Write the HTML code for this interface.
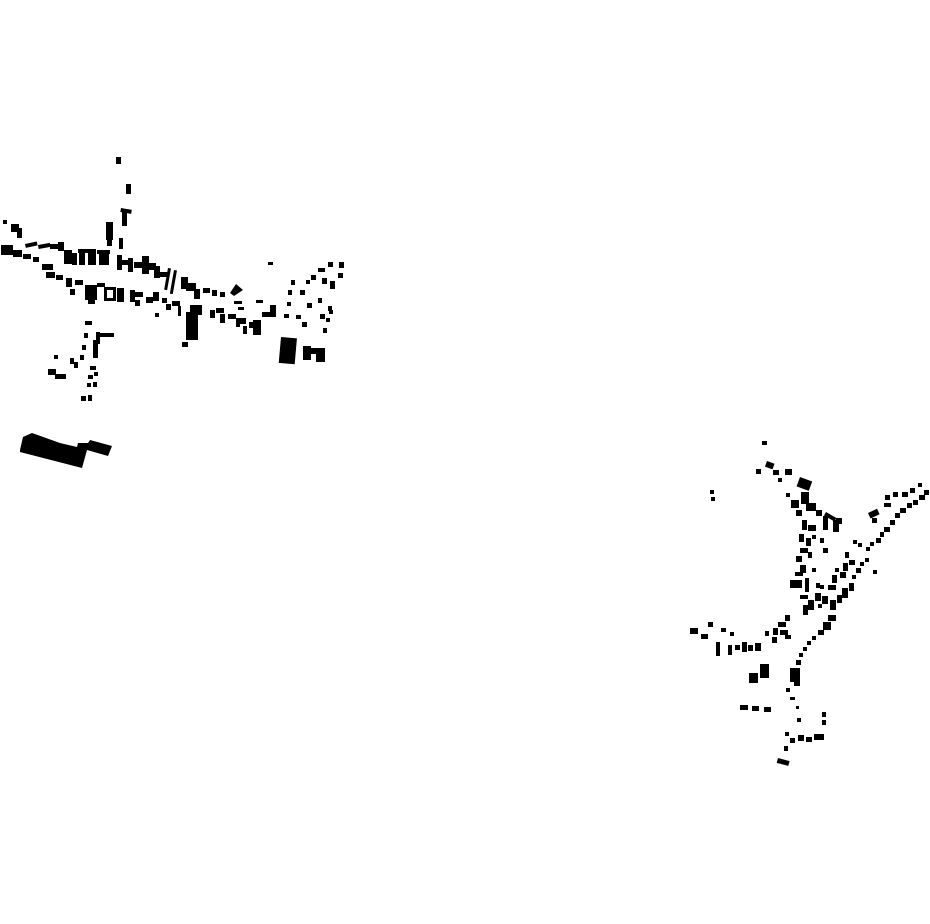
<!DOCTYPE html>
<html><head><meta charset="utf-8"><style>html,body{margin:0;padding:0;background:#fff}svg{display:block}</style></head>
<body>
<svg width="930" height="924" viewBox="0 0 930 924" xmlns="http://www.w3.org/2000/svg">
<g fill="#000">
<rect x="116" y="157" width="5" height="7"/>
<rect x="126" y="184" width="5" height="10"/>
<rect x="121" y="208" width="11" height="4" transform="rotate(10 121 208)"/>
<rect x="122" y="211" width="5" height="15"/>
<rect x="106" y="222" width="7" height="18"/>
<rect x="107" y="240" width="5" height="6"/>
<rect x="119" y="238" width="4" height="11"/>
<rect x="3" y="220" width="4" height="4"/>
<rect x="11" y="224" width="8" height="8"/>
<rect x="17" y="228" width="5" height="10"/>
<rect x="1" y="245" width="12" height="10"/>
<rect x="13" y="250" width="9" height="7"/>
<rect x="23" y="254" width="8" height="5"/>
<rect x="33" y="257" width="6" height="5"/>
<rect x="25" y="244" width="12" height="4" transform="rotate(-12 25 244)"/>
<rect x="38" y="245" width="12" height="4" transform="rotate(-10 38 245)"/>
<rect x="50" y="244" width="10" height="5"/>
<rect x="58" y="242" width="6" height="9"/>
<rect x="64" y="250" width="8" height="14"/>
<rect x="72" y="253" width="5" height="12"/>
<rect x="78" y="249" width="18" height="4"/>
<rect x="79" y="252" width="6" height="13"/>
<rect x="88" y="253" width="8" height="12"/>
<rect x="97" y="250" width="13" height="4"/>
<rect x="99" y="253" width="10" height="12"/>
<rect x="117" y="255" width="5" height="15"/>
<rect x="121" y="260" width="12" height="5"/>
<rect x="128" y="258" width="5" height="14"/>
<rect x="134" y="262" width="10" height="6"/>
<rect x="142" y="256" width="7" height="18"/>
<rect x="146" y="263" width="10" height="7"/>
<rect x="154" y="266" width="6" height="12"/>
<rect x="160" y="272" width="8" height="5"/>
<rect x="168" y="268" width="3" height="22" transform="rotate(10 168 268)"/>
<rect x="174" y="270" width="3" height="24" transform="rotate(10 174 270)"/>
<rect x="181" y="277" width="7" height="12"/>
<rect x="186" y="283" width="10" height="8"/>
<rect x="194" y="289" width="6" height="10"/>
<rect x="203" y="288" width="7" height="5"/>
<rect x="212" y="290" width="5" height="6"/>
<rect x="220" y="292" width="5" height="5"/>
<polygon points="230,293 236,284 243,290 234,296"/>
<rect x="268" y="262" width="5" height="3"/>
<rect x="42" y="264" width="11" height="6"/>
<rect x="46" y="272" width="9" height="6"/>
<rect x="56" y="275" width="7" height="5"/>
<rect x="66" y="278" width="6" height="9"/>
<rect x="75" y="280" width="8" height="5"/>
<rect x="70" y="289" width="5" height="6"/>
<rect x="85" y="285" width="12" height="15"/>
<rect x="88" y="296" width="7" height="8"/>
<rect x="97" y="283" width="8" height="4"/>
<rect x="104" y="287" width="12" height="3"/>
<rect x="104" y="287" width="3" height="14"/>
<rect x="113" y="287" width="3" height="14"/>
<rect x="104" y="298" width="12" height="3"/>
<rect x="117" y="288" width="4" height="14"/>
<rect x="120" y="288" width="4" height="14"/>
<rect x="130" y="290" width="5" height="12"/>
<rect x="135" y="292" width="8" height="5"/>
<rect x="135" y="300" width="5" height="6"/>
<rect x="146" y="297" width="7" height="6"/>
<rect x="153" y="292" width="6" height="9"/>
<rect x="155" y="313" width="4" height="4"/>
<rect x="162" y="298" width="5" height="5"/>
<rect x="166" y="304" width="5" height="6"/>
<rect x="172" y="301" width="8" height="5"/>
<rect x="178" y="306" width="3" height="10"/>
<rect x="190" y="305" width="12" height="10"/>
<rect x="186" y="312" width="12" height="28"/>
<rect x="182" y="342" width="6" height="5"/>
<rect x="210" y="310" width="5" height="8"/>
<rect x="216" y="308" width="8" height="5"/>
<rect x="220" y="314" width="5" height="9"/>
<rect x="228" y="314" width="8" height="5"/>
<rect x="236" y="318" width="4" height="9"/>
<rect x="240" y="318" width="6" height="6"/>
<rect x="243" y="326" width="4" height="8"/>
<rect x="249" y="322" width="6" height="6"/>
<rect x="253" y="320" width="8" height="15"/>
<rect x="234" y="301" width="8" height="3"/>
<rect x="238" y="307" width="6" height="3"/>
<rect x="256" y="300" width="7" height="3"/>
<rect x="262" y="312" width="8" height="5"/>
<rect x="270" y="305" width="6" height="12"/>
<rect x="291" y="280" width="4" height="5"/>
<rect x="288" y="290" width="4" height="5"/>
<rect x="287" y="302" width="4" height="4"/>
<rect x="284" y="314" width="5" height="4"/>
<rect x="300" y="290" width="5" height="5"/>
<rect x="296" y="315" width="5" height="4"/>
<rect x="302" y="322" width="5" height="5"/>
<rect x="307" y="303" width="5" height="5"/>
<rect x="318" y="298" width="4" height="5"/>
<rect x="311" y="275" width="5" height="5"/>
<rect x="306" y="280" width="4" height="4"/>
<rect x="318" y="268" width="7" height="4"/>
<rect x="328" y="262" width="5" height="5"/>
<rect x="322" y="278" width="5" height="6"/>
<rect x="330" y="281" width="5" height="8"/>
<rect x="339" y="262" width="5" height="6"/>
<rect x="338" y="273" width="5" height="5"/>
<rect x="328" y="306" width="4" height="5"/>
<rect x="320" y="314" width="5" height="5"/>
<rect x="323" y="328" width="4" height="5"/>
<rect x="326" y="318" width="4" height="4"/>
<rect x="329" y="310" width="4" height="4"/>
<rect x="281" y="337" width="16" height="26" transform="rotate(5 281 337)"/>
<rect x="303" y="346" width="8" height="14"/>
<rect x="303" y="348" width="20" height="6"/>
<rect x="316" y="348" width="9" height="14"/>
<rect x="85" y="321" width="7" height="4"/>
<rect x="84" y="333" width="4" height="5"/>
<rect x="82" y="345" width="4" height="5"/>
<rect x="96" y="332" width="4" height="12"/>
<rect x="99" y="333" width="15" height="4"/>
<rect x="93" y="340" width="5" height="18"/>
<rect x="80" y="355" width="4" height="5"/>
<rect x="70" y="358" width="4" height="6"/>
<rect x="74" y="362" width="4" height="6"/>
<rect x="54" y="355" width="4" height="4"/>
<rect x="48" y="369" width="8" height="6"/>
<rect x="55" y="374" width="11" height="5"/>
<rect x="90" y="366" width="6" height="4"/>
<rect x="88" y="375" width="5" height="4"/>
<rect x="94" y="372" width="4" height="4"/>
<rect x="87" y="383" width="4" height="4"/>
<rect x="93" y="382" width="4" height="5"/>
<rect x="81" y="396" width="5" height="5"/>
<rect x="88" y="395" width="4" height="6"/>
<polygon points="20,450 23,437 32,433 60,443 77,447 78,443 88,443 90,440 112,446 108,456 87,450 82,468 20,452"/>
<rect x="762" y="441" width="5" height="4"/>
<rect x="767" y="461" width="8" height="6" transform="rotate(20 767 461)"/>
<rect x="756" y="469" width="5" height="5"/>
<rect x="773" y="470" width="6" height="5"/>
<rect x="785" y="469" width="7" height="6"/>
<rect x="778" y="478" width="4" height="4"/>
<rect x="800" y="477" width="13" height="10" transform="rotate(20 800 477)"/>
<rect x="710" y="490" width="4" height="4"/>
<rect x="711" y="497" width="4" height="4"/>
<rect x="786" y="493" width="4" height="4"/>
<rect x="791" y="500" width="8" height="8"/>
<rect x="801" y="492" width="8" height="12"/>
<rect x="806" y="503" width="10" height="8"/>
<rect x="796" y="510" width="6" height="6"/>
<rect x="816" y="510" width="6" height="6"/>
<rect x="826" y="512" width="12" height="4" transform="rotate(30 826 512)"/>
<rect x="823" y="516" width="5" height="14"/>
<rect x="833" y="520" width="6" height="12"/>
<rect x="836" y="518" width="6" height="6"/>
<rect x="802" y="520" width="5" height="10"/>
<rect x="808" y="525" width="8" height="6"/>
<rect x="799" y="534" width="5" height="8"/>
<rect x="806" y="538" width="5" height="8"/>
<rect x="800" y="548" width="8" height="5"/>
<rect x="812" y="535" width="4" height="4"/>
<rect x="820" y="538" width="4" height="5"/>
<rect x="823" y="548" width="5" height="5"/>
<rect x="796" y="556" width="6" height="6"/>
<rect x="808" y="552" width="4" height="6"/>
<rect x="800" y="565" width="6" height="8"/>
<rect x="790" y="580" width="12" height="8"/>
<rect x="795" y="572" width="8" height="4"/>
<rect x="805" y="578" width="4" height="14"/>
<rect x="812" y="568" width="4" height="4"/>
<rect x="816" y="583" width="4" height="5"/>
<rect x="800" y="595" width="8" height="4"/>
<rect x="803" y="605" width="5" height="10"/>
<rect x="808" y="600" width="6" height="10"/>
<rect x="785" y="615" width="5" height="6"/>
<rect x="778" y="622" width="8" height="5"/>
<rect x="773" y="628" width="5" height="7"/>
<rect x="780" y="630" width="8" height="5"/>
<rect x="785" y="635" width="6" height="4"/>
<rect x="772" y="637" width="5" height="6"/>
<rect x="765" y="631" width="4" height="5"/>
<rect x="815" y="593" width="6" height="8"/>
<rect x="818" y="604" width="4" height="4"/>
<rect x="822" y="596" width="6" height="8"/>
<rect x="820" y="585" width="4" height="4"/>
<rect x="828" y="585" width="8" height="5"/>
<rect x="832" y="575" width="5" height="8"/>
<rect x="835" y="568" width="4" height="4"/>
<rect x="840" y="572" width="6" height="6"/>
<rect x="843" y="563" width="5" height="8"/>
<rect x="849" y="560" width="6" height="5"/>
<rect x="828" y="615" width="8" height="6"/>
<rect x="823" y="622" width="8" height="8"/>
<rect x="818" y="630" width="6" height="5"/>
<rect x="812" y="636" width="4" height="4"/>
<rect x="807" y="641" width="4" height="4"/>
<rect x="803" y="647" width="4" height="4"/>
<rect x="799" y="653" width="4" height="4"/>
<rect x="796" y="660" width="5" height="5"/>
<rect x="790" y="668" width="10" height="14"/>
<rect x="794" y="680" width="6" height="6"/>
<rect x="786" y="688" width="4" height="4"/>
<rect x="790" y="697" width="5" height="3"/>
<rect x="796" y="706" width="3" height="3"/>
<rect x="830" y="600" width="6" height="10"/>
<rect x="837" y="595" width="5" height="8"/>
<rect x="842" y="588" width="6" height="10"/>
<rect x="849" y="583" width="5" height="8"/>
<rect x="852" y="575" width="4" height="4"/>
<rect x="856" y="568" width="5" height="5"/>
<rect x="860" y="562" width="4" height="4"/>
<rect x="865" y="558" width="4" height="4"/>
<rect x="873" y="570" width="4" height="4"/>
<rect x="866" y="547" width="4" height="4"/>
<rect x="870" y="542" width="4" height="4"/>
<rect x="876" y="538" width="5" height="5"/>
<rect x="880" y="532" width="4" height="5"/>
<rect x="884" y="527" width="6" height="5"/>
<rect x="890" y="520" width="5" height="5"/>
<rect x="895" y="513" width="5" height="5"/>
<rect x="900" y="508" width="6" height="5"/>
<rect x="907" y="503" width="5" height="5"/>
<rect x="913" y="500" width="5" height="5"/>
<rect x="919" y="495" width="6" height="5"/>
<rect x="924" y="490" width="5" height="5"/>
<rect x="918" y="483" width="4" height="4"/>
<rect x="885" y="495" width="5" height="5"/>
<rect x="893" y="492" width="5" height="5"/>
<rect x="902" y="492" width="6" height="5"/>
<rect x="910" y="488" width="5" height="5"/>
<rect x="884" y="503" width="7" height="4"/>
<rect x="868" y="513" width="10" height="6" transform="rotate(-25 868 513)"/>
<rect x="872" y="518" width="5" height="5"/>
<rect x="853" y="540" width="4" height="4"/>
<rect x="858" y="543" width="4" height="4"/>
<rect x="845" y="552" width="4" height="6"/>
<rect x="740" y="705" width="8" height="5"/>
<rect x="752" y="706" width="7" height="5"/>
<rect x="764" y="707" width="7" height="5"/>
<rect x="797" y="718" width="4" height="4"/>
<rect x="822" y="712" width="4" height="5"/>
<rect x="822" y="720" width="4" height="5"/>
<rect x="785" y="732" width="4" height="4"/>
<rect x="790" y="738" width="5" height="5"/>
<rect x="798" y="735" width="6" height="6"/>
<rect x="806" y="737" width="6" height="5"/>
<rect x="814" y="734" width="10" height="6"/>
<rect x="784" y="746" width="4" height="5"/>
<rect x="778" y="758" width="12" height="5" transform="rotate(15 778 758)"/>
<rect x="690" y="628" width="8" height="6"/>
<rect x="701" y="634" width="7" height="5"/>
<rect x="708" y="622" width="5" height="5"/>
<rect x="721" y="628" width="5" height="4"/>
<rect x="716" y="642" width="4" height="14"/>
<rect x="728" y="645" width="4" height="10"/>
<rect x="735" y="645" width="5" height="5"/>
<rect x="742" y="642" width="5" height="10"/>
<rect x="748" y="645" width="5" height="6"/>
<rect x="755" y="643" width="6" height="8"/>
<rect x="749" y="673" width="9" height="10"/>
<rect x="760" y="664" width="9" height="14"/>
<rect x="730" y="632" width="4" height="4"/>
</g>
</svg>
</body></html>
